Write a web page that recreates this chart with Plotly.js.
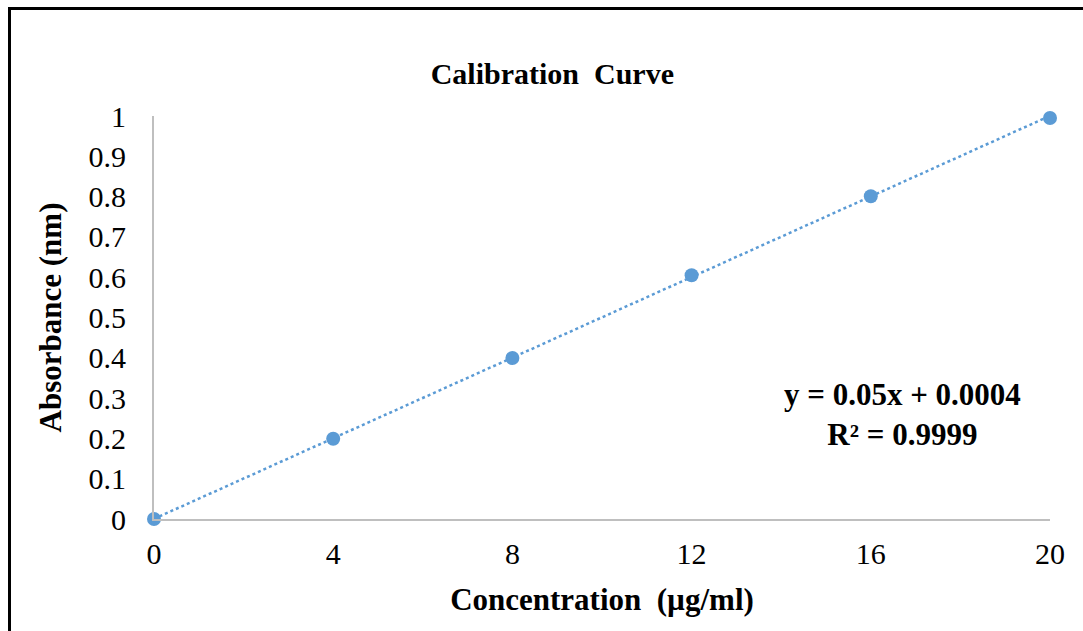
<!DOCTYPE html>
<html>
<head>
<meta charset="utf-8">
<script src="https://cdn.plot.ly/plotly-3.0.1.min.js"></script>
<style>
  html, body { margin: 0; padding: 0; background: #fff; }
  #wrap { position: relative; width: 1083px; height: 631px; overflow: hidden; }
  #chart { position: absolute; left: 0; top: 0; width: 1083px; height: 631px; }
  #frame { position: absolute; left: 8px; top: 7px; width: 1200px; height: 800px;
           border-top: 3px solid #000; border-left: 3px solid #000; pointer-events: none; }
</style>
</head>
<body>
<div id="wrap">
  <div id="chart"></div>
  <div id="frame"></div>
</div>
<script>
const concentration = [0, 4, 8, 12, 16, 20];
const absorbance = [0, 0.199, 0.3995, 0.605, 0.801, 0.995];
const slope = 0.05;
const intercept = 0.0004;
const trendX = [0, 20];
const trendY = trendX.map(x => slope * x + intercept);
const xTicks = [0, 4, 8, 12, 16, 20];
const yTicks = [0, 0.1, 0.2, 0.3, 0.4, 0.5, 0.6, 0.7, 0.8, 0.9, 1];
const yTickText = ['0', '0.1', '0.2', '0.3', '0.4', '0.5', '0.6', '0.7', '0.8', '0.9', '1'];

const serif = '"Liberation Serif", "Times New Roman", serif';
const blue = '#5B9BD5';

const traces = [
  {
    x: trendX, y: trendY, mode: 'lines', type: 'scatter',
    line: { color: blue, width: 2.5, dash: 'dot' },
    hoverinfo: 'skip', showlegend: false, cliponaxis: false
  },
  {
    x: concentration, y: absorbance, mode: 'markers', type: 'scatter',
    marker: { color: blue, size: 14 },
    showlegend: false, cliponaxis: false
  }
];

const layout = {
  width: 1083, height: 631,
  margin: { l: 154, r: 33, t: 116, b: 112 },
  paper_bgcolor: '#fff', plot_bgcolor: '#fff',
  title: {
    text: '<b>Calibration  Curve</b>',
    font: { family: serif, size: 30, color: '#000' },
    x: 0.51, xanchor: 'center', y: 0.883, yanchor: 'middle'
  },
  xaxis: {
    range: [0, 20], tickvals: xTicks, ticktext: xTicks.map(String),
    showgrid: false, zeroline: false,
    showline: true, linecolor: '#bfbfbf', linewidth: 2,
    ticks: '', ticklabelstandoff: 7,
    tickfont: { family: serif, size: 30, color: '#000' },
    title: { text: '<b>Concentration  (µg/ml)</b>', font: { family: serif, size: 31, color: '#000' }, standoff: 19 }
  },
  yaxis: {
    range: [0, 1], tickvals: yTicks, ticktext: yTickText,
    showgrid: false, zeroline: false,
    showline: true, linecolor: '#bfbfbf', linewidth: 2,
    ticks: '', ticklabelstandoff: 20,
    tickfont: { family: serif, size: 30, color: '#000' },
    title: { text: '<b>Absorbance (nm)</b>', font: { family: serif, size: 31, color: '#000' }, standoff: 18 }
  },
  annotations: [
    {
      xref: 'paper', yref: 'paper', x: 0.835, y: 0.26,
      text: '<b>y = 0.05x + 0.0004</b><br><b>R² = 0.9999</b>',
      showarrow: false, align: 'center', xanchor: 'center', yanchor: 'middle',
      font: { family: serif, size: 31, color: '#000' }
    }
  ]
};

Plotly.newPlot('chart', traces, layout, { staticPlot: true, displayModeBar: false });
</script>
</body>
</html>
